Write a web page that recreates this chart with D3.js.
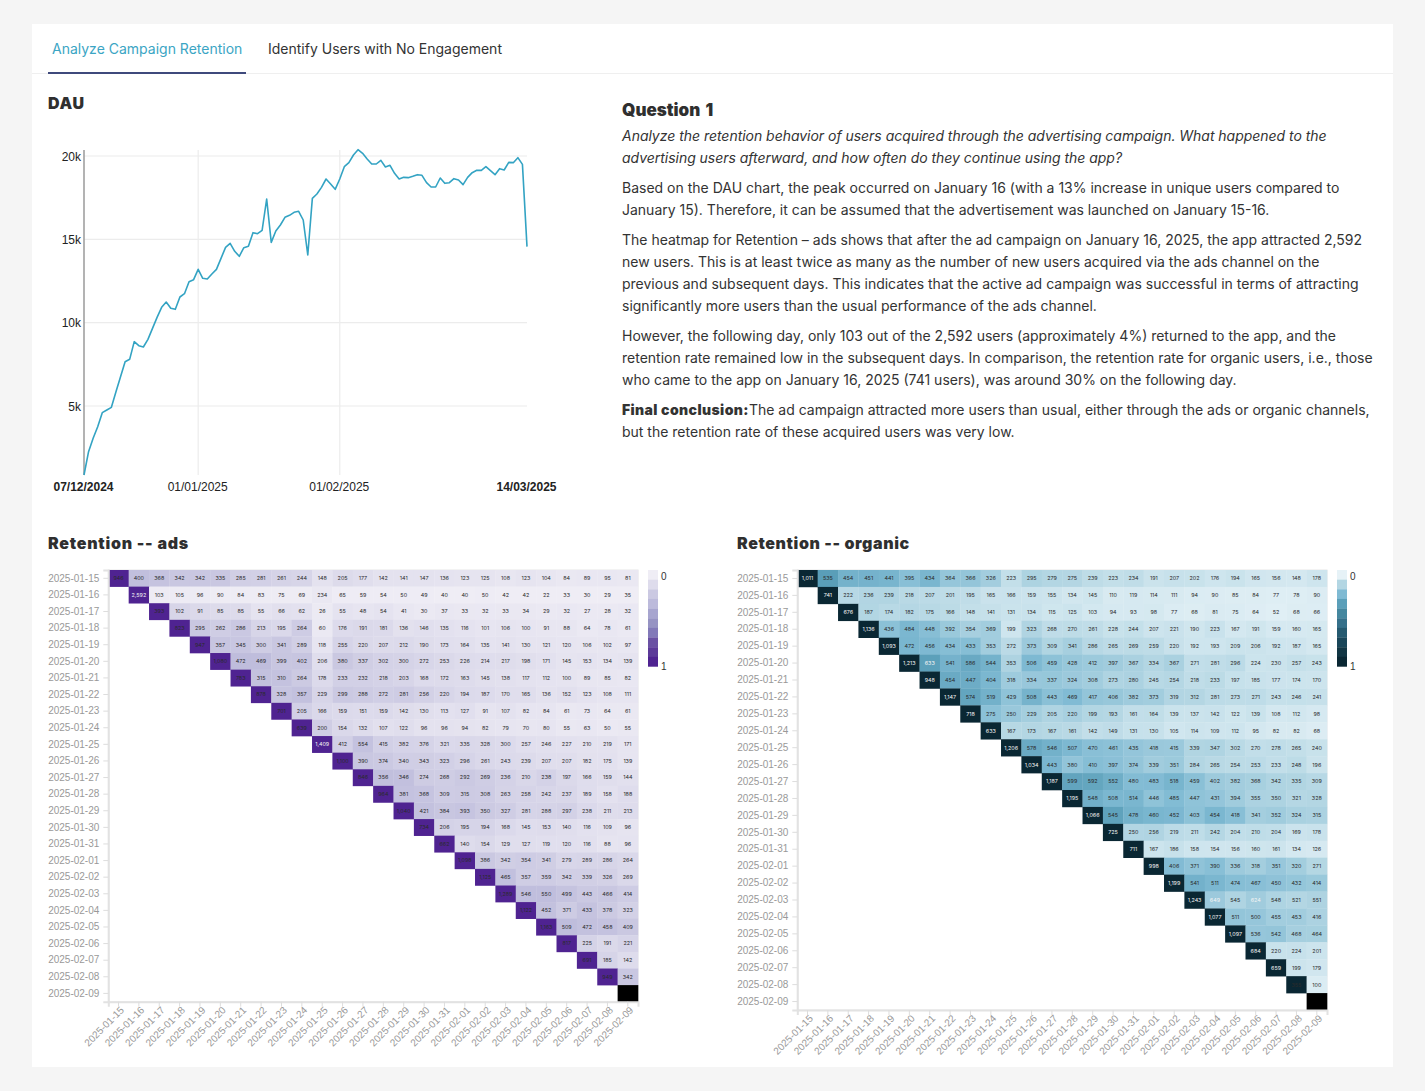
<!DOCTYPE html>
<html>
<head>
<meta charset="utf-8">
<script src="https://cdn.jsdelivr.net/npm/d3@7"></script>
<style>
html,body{margin:0;padding:0;background:#f5f5f5;}
svg{display:block;}
text{font-family:Inter,"Liberation Sans",sans-serif;}
.body{font-size:14px;fill:#333;}
.head{font-size:16px;font-weight:900;fill:#2f2f2f;}
.ax text{font-family:"Liberation Sans",Arial,sans-serif;}
</style>
</head>
<body>
<svg id="page" width="1425" height="1091"></svg>
<script>
const tabLabels = ["Analyze Campaign Retention","Identify Users with No Engagement"];

const dauStart = "2024-12-07";
const dauValues = [860,2260,3060,3760,4600,4760,4920,5860,6760,7660,7800,8860,8620,8540,9000,9660,10320,10920,11240,10860,10800,11540,11740,12460,12580,13200,12660,12620,12920,13200,13860,14520,14760,14280,13980,14500,14580,15400,15340,15540,17420,14820,15500,15860,16320,16440,16620,16680,16160,14060,17460,17720,18120,18620,18320,18000,18620,19360,19600,20060,20380,20160,19820,19520,19520,19740,19340,19440,18960,18620,18720,18700,18780,18880,18840,18400,18140,18140,18680,18360,18400,18640,18560,18280,18720,19000,19140,19140,19360,19120,18880,19240,19160,19620,19600,19900,19500,14560];
const dauYTicks = [5000,10000,15000,20000];
const dauXTicks = ["2024-12-07","2025-01-01","2025-02-01","2025-03-14"];
const dauXLabels = ["07/12/2024","01/01/2025","01/02/2025","14/03/2025"];
const dauGridDates = ["2025-01-01","2025-02-01"];

const cohortDates = ["2025-01-15","2025-01-16","2025-01-17","2025-01-18","2025-01-19","2025-01-20","2025-01-21","2025-01-22","2025-01-23","2025-01-24","2025-01-25","2025-01-26","2025-01-27","2025-01-28","2025-01-29","2025-01-30","2025-01-31","2025-02-01","2025-02-02","2025-02-03","2025-02-04","2025-02-05","2025-02-06","2025-02-07","2025-02-08","2025-02-09"];

const adsRows = [
[946,400,368,342,342,335,285,281,261,244,148,205,177,142,141,147,136,123,125,108,123,104,84,89,95,81],
[2592,103,105,96,90,84,83,75,69,234,65,59,54,50,49,40,40,50,42,42,22,33,30,29,35],
[393,102,91,85,85,55,66,62,26,55,48,54,41,30,37,33,32,33,34,29,32,27,28,32],
[823,295,262,286,213,195,264,60,176,191,181,136,146,135,116,101,106,100,91,88,64,78,61],
[947,357,345,300,341,289,118,255,220,207,212,190,173,164,135,141,130,121,120,106,102,97],
[1080,472,469,399,402,206,380,337,302,300,272,253,226,214,217,198,171,145,153,134,139],
[783,315,310,264,178,233,232,218,203,168,172,163,145,138,117,112,100,89,85,82],
[878,328,357,229,299,288,272,281,256,220,194,187,170,165,136,152,123,108,111],
[701,205,166,159,151,159,142,130,113,127,91,107,82,84,61,73,64,61],
[639,200,154,132,107,122,96,96,94,82,79,70,80,55,63,50,55],
[1409,412,554,415,382,376,321,335,328,300,257,246,227,210,219,171],
[1100,390,374,340,343,323,296,261,243,239,207,207,182,175,139],
[846,356,346,274,268,292,269,236,210,238,197,166,159,144],
[964,381,368,309,315,308,263,258,242,237,189,158,188],
[1040,421,384,393,350,327,281,288,297,238,211,213],
[734,206,195,194,168,145,153,140,116,109,96],
[662,140,154,129,127,119,120,116,88,96],
[1098,386,342,354,341,279,289,286,264],
[1125,465,357,359,342,339,326,269],
[1289,546,550,499,443,466,414],
[1122,452,371,433,378,323],
[1163,509,472,458,409],
[817,225,191,221],
[691,185,142],
[949,342],
[null]
];

const organicRows = [
[1011,535,454,451,441,395,434,364,366,326,223,295,279,275,239,223,234,191,207,202,176,194,165,156,148,178],
[741,222,236,239,218,207,201,195,165,166,159,155,134,145,110,119,114,111,94,90,85,84,77,78,90],
[676,187,174,182,175,166,148,141,131,134,115,125,103,94,93,98,77,68,81,75,64,52,68,66],
[1136,436,484,448,392,354,369,199,323,268,270,261,228,244,207,221,190,223,167,191,159,160,165],
[1093,472,456,434,433,353,272,373,309,341,286,265,269,259,220,192,193,209,206,192,187,165],
[1213,633,541,586,544,353,506,459,428,412,397,367,334,367,271,281,296,224,230,257,243],
[948,454,447,404,318,334,337,324,308,273,280,245,254,218,233,197,185,177,174,170],
[1147,574,519,429,508,443,469,417,406,382,373,319,312,281,273,271,243,246,241],
[718,275,250,229,205,220,199,193,161,164,139,137,142,122,139,108,112,98],
[633,167,173,167,161,142,149,131,130,105,114,109,112,95,82,82,68],
[1206,578,546,507,470,461,435,418,415,339,347,302,270,278,265,240],
[1034,443,380,410,397,374,339,351,284,265,254,253,233,248,196],
[1187,599,592,552,480,483,518,459,402,382,368,342,335,309],
[1195,548,508,514,446,485,447,431,394,355,350,321,328],
[1066,545,478,460,452,403,454,418,341,352,324,315],
[725,250,256,219,211,242,204,210,204,169,178],
[711,167,186,158,154,156,160,161,134,126],
[998,406,371,390,336,318,351,320,271],
[1199,541,511,474,467,450,432,414],
[1243,649,545,624,548,521,551],
[1077,511,500,455,453,416],
[1097,536,542,468,464],
[684,220,224,201],
[659,199,179],
[355,100],
[null]
];

// Cohort size each row is shaded against, where it reads differently from the diagonal value
const adsShadeBase = [];
const organicShadeBase = [null,850,null,null,null,null,null,null,null,null,null,null,null,null,null,900,900,null,null,1900,1400,1500,1100,1100,900,null];

const purpleStops = ["#efedf5","#dedcec","#cbc9e2","#bcbadb","#a7a5cf","#9693c3","#8279b8","#6a51a3","#5c3a99","#4f2391"];
const tealStops = ["#e6f2f7","#b3d6e3","#7fbad3","#5b9fb9","#45879f","#35708a","#265a70","#1a4659","#123644","#0a2733"];
const legendLabels = ["0","1"];

const paragraphs = [
 {y:141,cls:"italic",t:"Analyze the retention behavior of users acquired through the advertising campaign. What happened to the"},
 {y:163,cls:"italic",t:"advertising users afterward, and how often do they continue using the app?"},
 {y:193,t:"Based on the DAU chart, the peak occurred on January 16 (with a 13% increase in unique users compared to"},
 {y:215,t:"January 15). Therefore, it can be assumed that the advertisement was launched on January 15-16."},
 {y:245,t:"The heatmap for Retention – ads shows that after the ad campaign on January 16, 2025, the app attracted 2,592"},
 {y:267,t:"new users. This is at least twice as many as the number of new users acquired via the ads channel on the"},
 {y:289,t:"previous and subsequent days. This indicates that the active ad campaign was successful in terms of attracting"},
 {y:311,t:"significantly more users than the usual performance of the ads channel."},
 {y:341,t:"However, the following day, only 103 out of the 2,592 users (approximately 4%) returned to the app, and the"},
 {y:363,t:"retention rate remained low in the subsequent days. In comparison, the retention rate for organic users, i.e., those"},
 {y:385,t:"who came to the app on January 16, 2025 (741 users), was around 30% on the following day."},
 {y:415,bold:"Final conclusion:",t:"The ad campaign attracted more users than usual, either through the ads or organic channels,"},
 {y:437,t:"but the retention rate of these acquired users was very low."}
];

const svg = d3.select("#page");

// card
svg.append("rect").attr("x",32).attr("y",24).attr("width",1361).attr("height",1043).attr("fill","#fff");
svg.append("line").attr("x1",32).attr("x2",1393).attr("y1",73.5).attr("y2",73.5).attr("stroke","#efefef");
svg.append("text").attr("x",52).attr("y",54).attr("font-size",14).attr("fill","#3ba5c4").text(tabLabels[0]);
svg.append("text").attr("x",268).attr("y",54).attr("font-size",14).attr("fill","#333").text(tabLabels[1]);
svg.append("rect").attr("x",48).attr("y",72).attr("width",198).attr("height",2).attr("fill","#3f4a7c");

// headings
svg.append("text").attr("class","head").attr("x",48).attr("y",109).attr("letter-spacing",0.6).text("DAU");
svg.append("text").attr("class","head").attr("x",622).attr("y",116).attr("word-spacing",2).style("font-size","17px").text("Question 1");
svg.append("text").attr("class","head").attr("x",48).attr("y",549).attr("letter-spacing",0.75).text("Retention -- ads");
svg.append("text").attr("class","head").attr("x",737).attr("y",549).attr("letter-spacing",0.6).text("Retention -- organic");

// text block
paragraphs.forEach(p=>{
  const t = svg.append("text").attr("class","body").attr("x",622).attr("y",p.y);
  if(p.cls==="italic") t.attr("font-style","italic").attr("letter-spacing",-0.03);
  if(p.bold) t.append("tspan").attr("font-weight",900).attr("letter-spacing",0.4).text(p.bold);
  t.append("tspan").text(p.t);
});

// DAU line chart
const parseDay = d3.utcParse("%Y-%m-%d");
const dauX = d3.scaleUtc().domain([parseDay(dauXTicks[0]),parseDay(dauXTicks[3])]).range([84,527]);
const dauY = d3.scaleLinear().domain([860,20360]).range([475,150]);
const dauSeries = dauValues.map((v,i)=>({d:d3.utcDay.offset(parseDay(dauStart),i),v}));
const dauG = svg.append("g").attr("class","ax");
dauYTicks.forEach(t=>{
  dauG.append("line").attr("x1",84).attr("x2",527).attr("y1",dauY(t)).attr("y2",dauY(t)).attr("stroke","#ececec").attr("stroke-width",1.2);
  dauG.append("text").attr("x",81).attr("y",dauY(t)+4.5).attr("text-anchor","end").attr("font-size",12).attr("fill","#222").text(d3.format("~s")(t));
});
dauGridDates.forEach(t=>{
  dauG.append("line").attr("x1",dauX(parseDay(t))).attr("x2",dauX(parseDay(t))).attr("y1",150).attr("y2",475).attr("stroke","#ececec").attr("stroke-width",1.2);
});
dauG.append("line").attr("x1",84).attr("x2",84).attr("y1",150).attr("y2",475).attr("stroke","#a0a0a0").attr("stroke-width",1.6);
dauXTicks.forEach((t,i)=>{
  dauG.append("text").attr("x",dauX(parseDay(t))-0.5).attr("y",491).attr("text-anchor","middle").attr("font-size",12)
    .attr("font-weight",(i===0||i===3)?700:400).attr("fill","#222").text(dauXLabels[i]);
});
dauG.append("path").datum(dauSeries).attr("fill","none").attr("stroke","#33a3c3").attr("stroke-width",1.6)
  .attr("stroke-linejoin","round")
  .attr("d",d3.line().x(d=>dauX(d.d)).y(d=>dauY(d.v)));

// heatmaps
function heatmap(rows, stops, shadeBase, exponent, box, legendX){
  const x = d3.scaleBand().domain(cohortDates).range([box.left,box.right]);
  const y = d3.scaleBand().domain(cohortDates).range([box.top,box.bottom]);
  const color = d3.scaleLinear().domain(stops.map((_,i)=>i/(stops.length-1))).range(stops);
  const shade = d3.scalePow().exponent(exponent).domain([0,1]).range([0,1]).clamp(true);
  const maxV = d3.max(rows.flat());
  const g = svg.append("g");
  g.append("rect").attr("x",box.left).attr("y",box.top).attr("width",box.right-box.left).attr("height",box.bottom-box.top)
    .attr("fill","#fff").attr("stroke","#e8e8e8");
  const cells = rows.flatMap((r,ri)=>r.map((v,ci)=>({v,ci,row:cohortDates[ri],col:cohortDates[ri+ci],base:shadeBase[ri]||r[0]})));
  g.selectAll("rect.cell").data(cells).join("rect").attr("class","cell")
    .attr("x",d=>x(d.col)).attr("y",d=>y(d.row)).attr("width",x.bandwidth()+0.3).attr("height",y.bandwidth()+0.3)
    .attr("fill",d=>d.v===null?"#000":(d.ci===0?stops[stops.length-1]:color(shade(d.v/d.base))));
  g.selectAll("text.val").data(cells.filter(d=>d.v!==null)).join("text").attr("class","val")
    .attr("x",d=>x(d.col)+x.bandwidth()/2).attr("y",d=>y(d.row)+y.bandwidth()/2+1.9)
    .attr("text-anchor","middle").attr("font-size",5.4).style("font-family","Inter,sans-serif")
    .attr("fill",d=>d.v>maxV/2?"#f4f4f4":"#2b2b2b").text(d=>d3.format(",")(d.v));
  const ya = g.append("g").attr("class","ax").attr("transform",`translate(${box.left},0)`).call(d3.axisLeft(y).tickSize(5).tickPadding(4));
  ya.selectAll("text").attr("font-size",10).attr("fill","#999");
  ya.selectAll("line").attr("stroke","#ddd");
  ya.select(".domain").attr("stroke","#e2e2e2").attr("stroke-width",2);
  const xa = g.append("g").attr("class","ax").attr("transform",`translate(0,${box.bottom})`).call(d3.axisBottom(x).tickSize(5).tickPadding(3));
  xa.selectAll("text").attr("font-size",10).attr("fill","#999").attr("text-anchor","end")
    .attr("transform","translate(-3,-3) rotate(-45)").attr("dx","-0.2em").attr("dy","0.7em");
  xa.selectAll("line").attr("stroke","#ddd");
  xa.select(".domain").attr("stroke","#e2e2e2").attr("stroke-width",2);
  // legend
  const ly = d3.scaleBand().domain(d3.range(stops.length)).range([570,666.5]);
  g.selectAll("rect.lg").data(stops).join("rect").attr("class","lg")
    .attr("x",legendX).attr("y",(d,i)=>ly(i)).attr("width",10).attr("height",ly.bandwidth()+0.2).attr("fill",d=>d);
  g.append("text").attr("x",legendX+13).attr("y",580).attr("font-size",10).style("font-family","Liberation Sans,sans-serif").attr("fill","#333").text(legendLabels[0]);
  g.append("text").attr("x",legendX+13).attr("y",670).attr("font-size",10).style("font-family","Liberation Sans,sans-serif").attr("fill","#333").text(legendLabels[1]);
}
heatmap(adsRows, purpleStops, adsShadeBase, 1.4, {left:108.3,right:638,top:570,bottom:1001.7}, 648);
heatmap(organicRows, tealStops, organicShadeBase, 1.7, {left:797.3,right:1327,top:570,bottom:1010}, 1337);
</script>
</body>
</html>
